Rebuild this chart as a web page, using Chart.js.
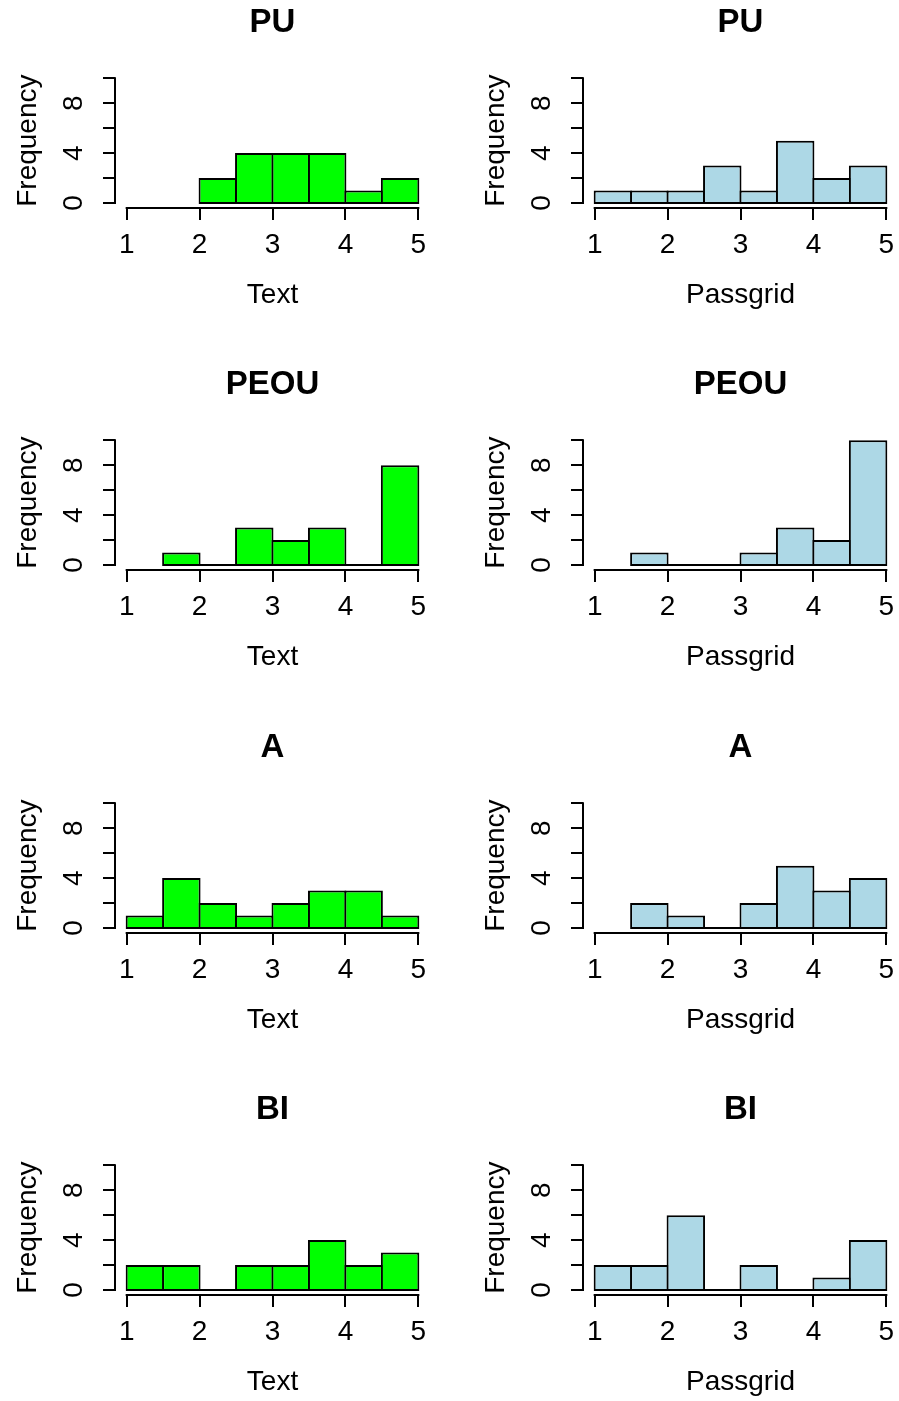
<!DOCTYPE html>
<html>
<head>
<meta charset="utf-8">
<script src="https://cdn.jsdelivr.net/npm/chart.js@4.4.1/dist/chart.umd.min.js"></script>
<style>
  html, body { margin: 0; padding: 0; background: #fff; overflow: hidden; }
  #page { position: relative; width: 899px; height: 1401px; overflow: hidden; }
  #page canvas { position: absolute; }
</style>
</head>
<body>
<div id="page"></div>
<script>
// axes, shared by every panel
const xTicks = [1, 2, 3, 4, 5];
const yTicks = [0, 2, 4, 6, 8, 10];
const yTickLabels = [0, 4, 8];
const binWidth = 0.5;

// histogram counts, one array per panel, with the first break of each
const textPU = [2, 4, 4, 4, 1, 2];
const textPUStart = 2;
const textPEOU = [1, 0, 3, 2, 3, 0, 8];
const textPEOUStart = 1.5;
const textA = [1, 4, 2, 1, 2, 3, 3, 1];
const textAStart = 1;
const textBI = [2, 2, 0, 2, 2, 4, 2, 3];
const textBIStart = 1;

const gridPU = [1, 1, 1, 3, 1, 5, 2, 3];
const gridPUStart = 1;
const gridPEOU = [1, 0, 0, 1, 3, 2, 10];
const gridPEOUStart = 1.5;
const gridA = [2, 1, 0, 2, 5, 3, 4];
const gridAStart = 1.5;
const gridBI = [2, 2, 6, 0, 2, 0, 1, 4];
const gridBIStart = 1;

const titles = ['PU', 'PEOU', 'A', 'BI'];
const textCounts = [[textPU, textPUStart], [textPEOU, textPEOUStart], [textA, textAStart], [textBI, textBIStart]];
const gridCounts = [[gridPU, gridPUStart], [gridPEOU, gridPEOUStart], [gridA, gridAStart], [gridBI, gridBIStart]];

const font = 'Liberation Sans, Arial, Helvetica, sans-serif';
const colors = { text: '#00ff00', grid: '#add8e6', ink: '#000' };

// R draws its axis lines only from the first to the last tick
const rAxes = {
  id: 'rAxes',
  afterDraw(chart) {
    const { ctx, chartArea, scales: { x, y } } = chart;
    ctx.save();
    ctx.strokeStyle = colors.ink;
    ctx.lineWidth = 2;
    ctx.lineCap = 'square';
    ctx.beginPath();
    ctx.moveTo(x.getPixelForValue(xTicks[0]), chartArea.bottom);
    ctx.lineTo(x.getPixelForValue(xTicks[xTicks.length - 1]), chartArea.bottom);
    ctx.moveTo(chartArea.left, y.getPixelForValue(yTicks[0]));
    ctx.lineTo(chartArea.left, y.getPixelForValue(yTicks[yTicks.length - 1]));
    ctx.stroke();
    ctx.restore();
  },
};

// empty bins show up in R as a flat line on zero
function emptyBins(counts, start) {
  const pts = [];
  counts.forEach((count, i) => {
    if (count !== 0) return;
    const a = start + i * binWidth;
    if (pts.length && pts[pts.length - 1].x !== a) pts.push({ x: a - binWidth / 2, y: null });
    if (!pts.length || pts[pts.length - 1].x !== a) pts.push({ x: a, y: 0 });
    pts.push({ x: a + binWidth, y: 0 });
  });
  return pts;
}

function histogram(left, top, title, xLabel, counts, start, fill) {
  const canvas = document.createElement('canvas');
  canvas.width = 432;
  canvas.height = 362;
  canvas.style.left = left + 'px';
  canvas.style.top = top + 'px';
  document.getElementById('page').appendChild(canvas);

  const bars = counts.map((count, i) => ({ x: start + (i + 0.5) * binWidth, y: count }));

  new Chart(canvas, {
    type: 'bar',
    data: {
      datasets: [
        { type: 'line', data: emptyBins(counts, start), borderColor: colors.ink, borderWidth: 2, pointRadius: 0, tension: 0, spanGaps: false },
        // base nudged one pixel down so the bottom edge sits on the zero line like R's stroke
        { data: bars, base: -0.08, backgroundColor: fill, borderColor: colors.ink, borderWidth: 2, borderSkipped: false, barPercentage: 1.055, categoryPercentage: 1 },
      ],
    },
    options: {
      responsive: false,
      animation: false,
      events: [],
      layout: { padding: { left: 0, right: 2, top: 0, bottom: 0 } },
      plugins: {
        legend: { display: false },
        tooltip: { enabled: false },
        title: {
          display: true, text: title, fullSize: false, color: colors.ink,
          font: { family: font, size: 33, weight: 'bold' },
          padding: { top: 3.2, bottom: 30.5 },
        },
      },
      scales: {
        x: {
          type: 'linear', min: 0.84, max: 5.16, offset: false,
          afterBuildTicks: (scale) => { scale.ticks = xTicks.map((v) => ({ value: v })); },
          afterFit: (scale) => { scale.height = 154; scale.paddingLeft = 0; scale.paddingRight = 0; },
          grid: { display: true, offset: false, drawOnChartArea: false, drawTicks: true, tickLength: 12, color: colors.ink, lineWidth: 2 },
          border: { display: false },
          ticks: { autoSkip: false, maxRotation: 0, minRotation: 0, padding: 8.5, color: colors.ink, font: { family: font, size: 28 } },
          title: { display: true, text: xLabel, color: colors.ink, font: { family: font, size: 28 }, padding: { top: 0, bottom: 50.2 } },
        },
        y: {
          type: 'linear', min: -0.4, max: 10.4, beginAtZero: false,
          afterBuildTicks: (scale) => { scale.ticks = yTicks.map((v) => ({ value: v })); },
          afterFit: (scale) => { scale.width = 115; scale.paddingTop = 0; scale.paddingBottom = 0; },
          grid: { display: true, drawOnChartArea: false, drawTicks: true, tickLength: 12, color: colors.ink, lineWidth: 2 },
          border: { display: false },
          ticks: {
            autoSkip: false, minRotation: 90, maxRotation: 90, crossAlign: 'center', padding: 21.2,
            color: colors.ink, font: { family: font, size: 28 },
            callback: (v) => (yTickLabels.includes(v) ? String(v) : ''),
          },
          title: { display: true, text: 'Frequency', color: colors.ink, font: { family: font, size: 28 }, padding: { top: 11.9, bottom: 0 } },
        },
      },
    },
    plugins: [rAxes],
  });
}

titles.forEach((title, row) => {
  const top = Math.round(row * 362.3);
  histogram(0, top, title, 'Text', textCounts[row][0], textCounts[row][1], colors.text);
  histogram(468, top, title, 'Passgrid', gridCounts[row][0], gridCounts[row][1], colors.grid);
});
</script>
</body>
</html>
